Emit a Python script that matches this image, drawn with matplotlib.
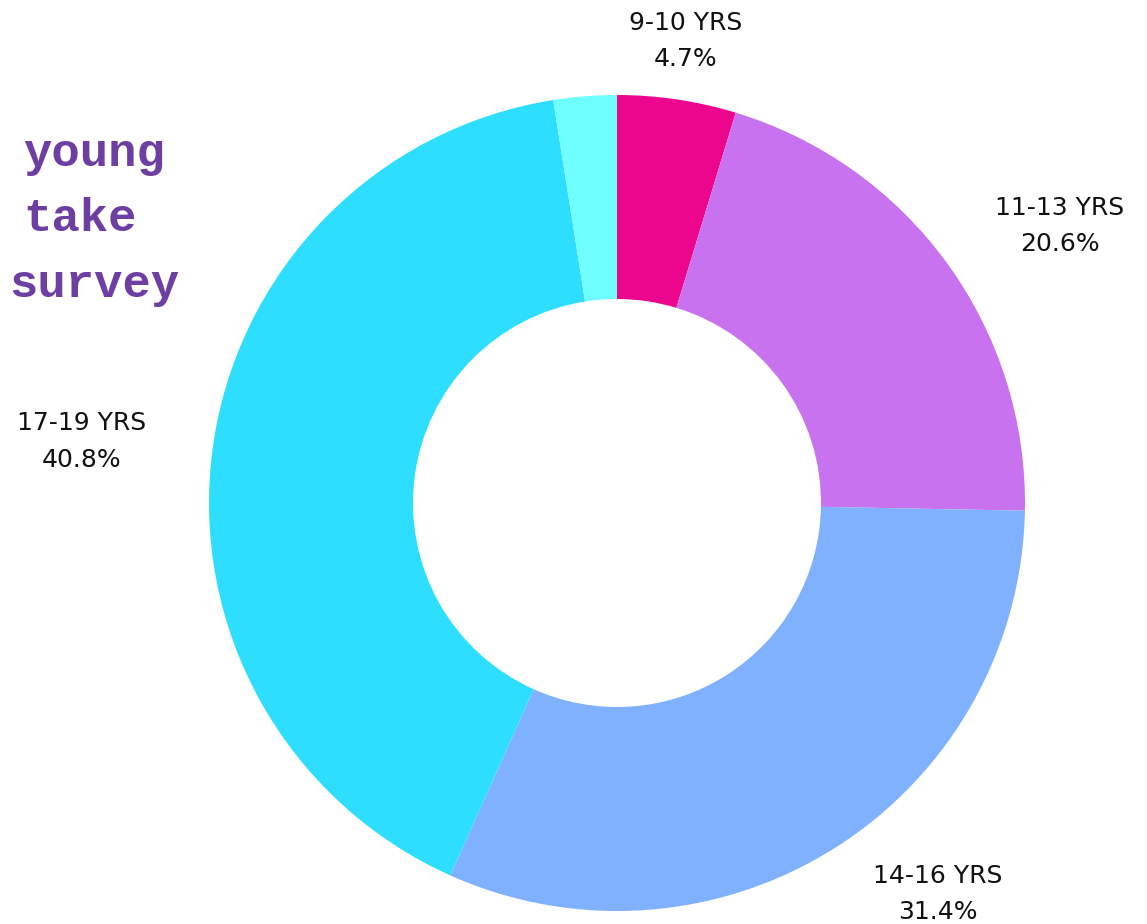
import numpy as np
import matplotlib
matplotlib.use("Agg")
import matplotlib.pyplot as plt

# ============================================================
# Data
# ============================================================

AGE_GROUPS = ["9-10 YRS", "11-13 YRS", "14-16 YRS", "17-19 YRS", ""]
SHARES = [4.7, 20.6, 31.4, 40.8, 2.5]
COLORS = ["#EC068D", "#C872F0", "#7FB1FF", "#2EDEFF", "#70FFFF"]

# label placement: radial distance and angle nudge (deg) per slice
LABEL_DIST = [1.145, 1.28, 1.24, 1.32, 0]
LABEL_NUDGE = [0, -4, 7, 1.0, 0]

TITLE_LINES = ["young", "take", "survey"]
TITLE_X = [-1.282, -1.315, -1.282]
OUTPUT_PLOT = "out.png"


def main():
    fig = plt.figure(figsize=(11.47, 9.24), dpi=100)
    ax = fig.add_axes([0, 0, 1, 1])

    wedges, _ = ax.pie(
        SHARES,
        colors=COLORS,
        startangle=90,
        counterclock=False,
        radius=1.0,
        wedgeprops=dict(width=0.5, linewidth=0),
    )

    # labels outside each slice
    for w, name, val, dist, nudge in zip(wedges, AGE_GROUPS, SHARES, LABEL_DIST, LABEL_NUDGE):
        if not name:
            continue
        ang = np.deg2rad((w.theta1 + w.theta2) / 2 + nudge)
        x, y = dist * np.cos(ang), dist * np.sin(ang)
        ax.text(x, y, f"{name}\n{val}%", ha="center", va="center",
                fontsize=18, color="#111111", linespacing=1.65,
                family="DejaVu Sans")

    # title block on the left
    ty = [0.86, 0.70, 0.54]
    for line, x, y in zip(TITLE_LINES, TITLE_X, ty):
        ax.text(x, y - 0.005, line, ha="center", va="center",
                fontsize=34, fontweight="bold", color="#6E3FA3",
                family="Liberation Mono")

    ax.set_xlim(-617 / 408, (1147 - 617) / 408)
    ax.set_ylim(-421 / 408, (924 - 421) / 408)
    ax.set_aspect("auto")
    ax.axis("off")

    fig.savefig(OUTPUT_PLOT, dpi=100, facecolor="white")
    plt.close(fig)


if __name__ == "__main__":
    main()
